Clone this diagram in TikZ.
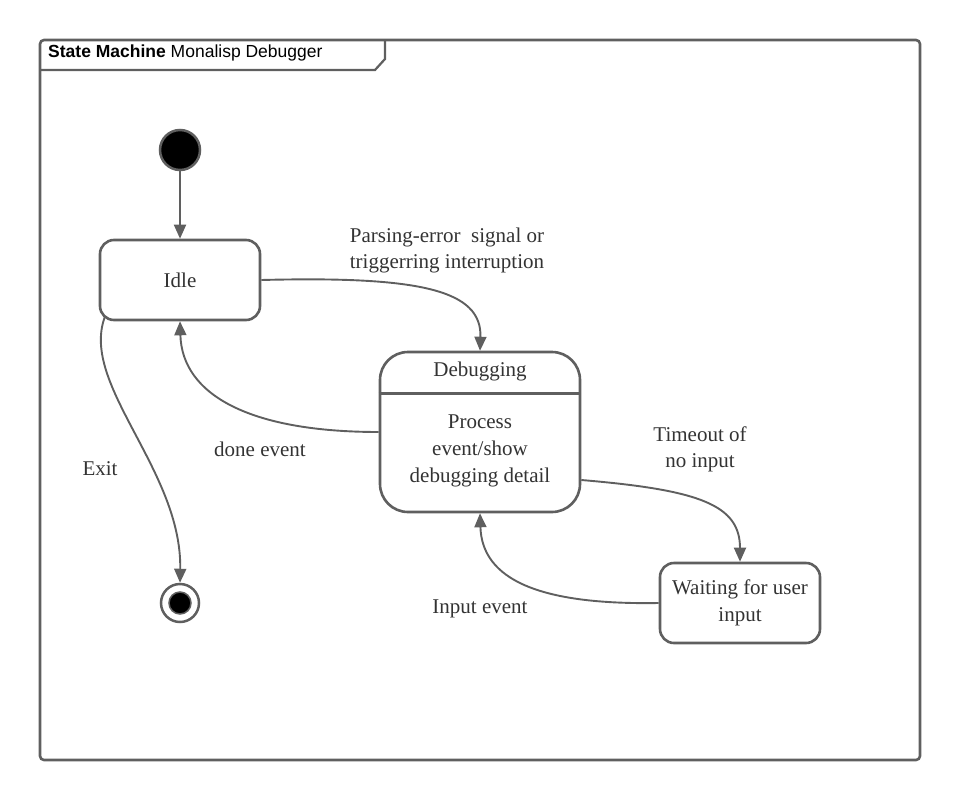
\documentclass[tikz,border=0pt]{standalone}
\usepackage{fontspec}
\setmainfont{Liberation Serif}
\setsansfont{Liberation Sans}
\usetikzlibrary{arrows.meta,calc}
\definecolor{lc}{HTML}{5F5F5F}
\definecolor{tc}{HTML}{333333}
\tikzset{
  statebox/.style={draw=lc,line width=2.6pt,rounded corners=14pt,fill=white,align=center,text=tc,font=\fontsize{21}{27}\selectfont},
  trans/.style={draw=lc,line width=1.9pt,-{Triangle[length=14pt,width=12pt]}},
  lbl/.style={text=tc,align=center,font=\fontsize{21}{26}\selectfont}
}
\begin{document}
\begin{tikzpicture}[x=1pt,y=-1pt]
\useasboundingbox (0,0) rectangle (960,800);
% frame
\draw[lc,line width=2.6pt,rounded corners=4pt] (40,40) rectangle (920,760);
\draw[lc,line width=2.2pt] (40,70) -- (375,70) -- (385,59) -- (385,40);
\node[anchor=west,inner sep=0,text=black,font=\sffamily\fontsize{17.5}{20}\selectfont] (title) at (48,53) {\textbf{State Machine} Monalisp Debugger};
% states
\node[circle,fill=black,draw=lc,line width=2.5pt,minimum size=40pt,inner sep=0] (init) at (180,150) {};
\node[statebox,minimum width=160pt,minimum height=80pt] (idle) at (180,280) {Idle};
\node[statebox,rounded corners=28pt,minimum width=200pt,minimum height=160pt] (dbg) at (480,432) {};
\draw[lc,line width=2.6pt] ($(dbg.north west)+(0,43)$) -- ($(dbg.north east)+(0,43)$);
\node[lbl] (dbgname) at (480,371) {Debugging};
\node[lbl,font=\fontsize{21}{27}\selectfont] (dbgbody) at (480,451) {Process\\event/show\\debugging detail};
\node[statebox,minimum width=160pt,minimum height=80pt] (wait) at (740,603) {Waiting for user\\input};
\node[circle,draw=lc,line width=2.5pt,fill=white,minimum size=38pt,inner sep=0] (final) at (180,603) {};
\node[circle,fill=black,draw=lc,line width=1.5pt,minimum size=22pt,inner sep=0] (finalin) at (180,603) {};
% transitions
\draw[trans] (init) -- (idle);
\draw[trans] (idle.east) .. controls (420,276) and (482,290) .. (dbg.north);
\draw[trans] (dbg.west) .. controls (250,432) and (182,395) .. (idle.south);
\draw[trans] ($(dbg.east)+(0,48)$) .. controls (700,490) and (740,505) .. (wait.north);
\draw[trans] (wait.west) .. controls (540,605) and (482,580) .. (dbg.south);
\draw[trans] ($(idle.south west)+(6,-4)$) .. controls (80,385) and (182,470) .. (final.north);
% labels
\node[lbl] (l1) at (447,250) {Parsing-error~~signal or\\triggerring interruption};
\node[lbl] (l2) at (260,449) {done event};
\node[lbl] (l3) at (700,449) {Timeout of\\no input};
\node[lbl] (l4) at (480,609) {Input event};
\node[lbl] (l5) at (100,469) {Exit};
\end{tikzpicture}
\end{document}
